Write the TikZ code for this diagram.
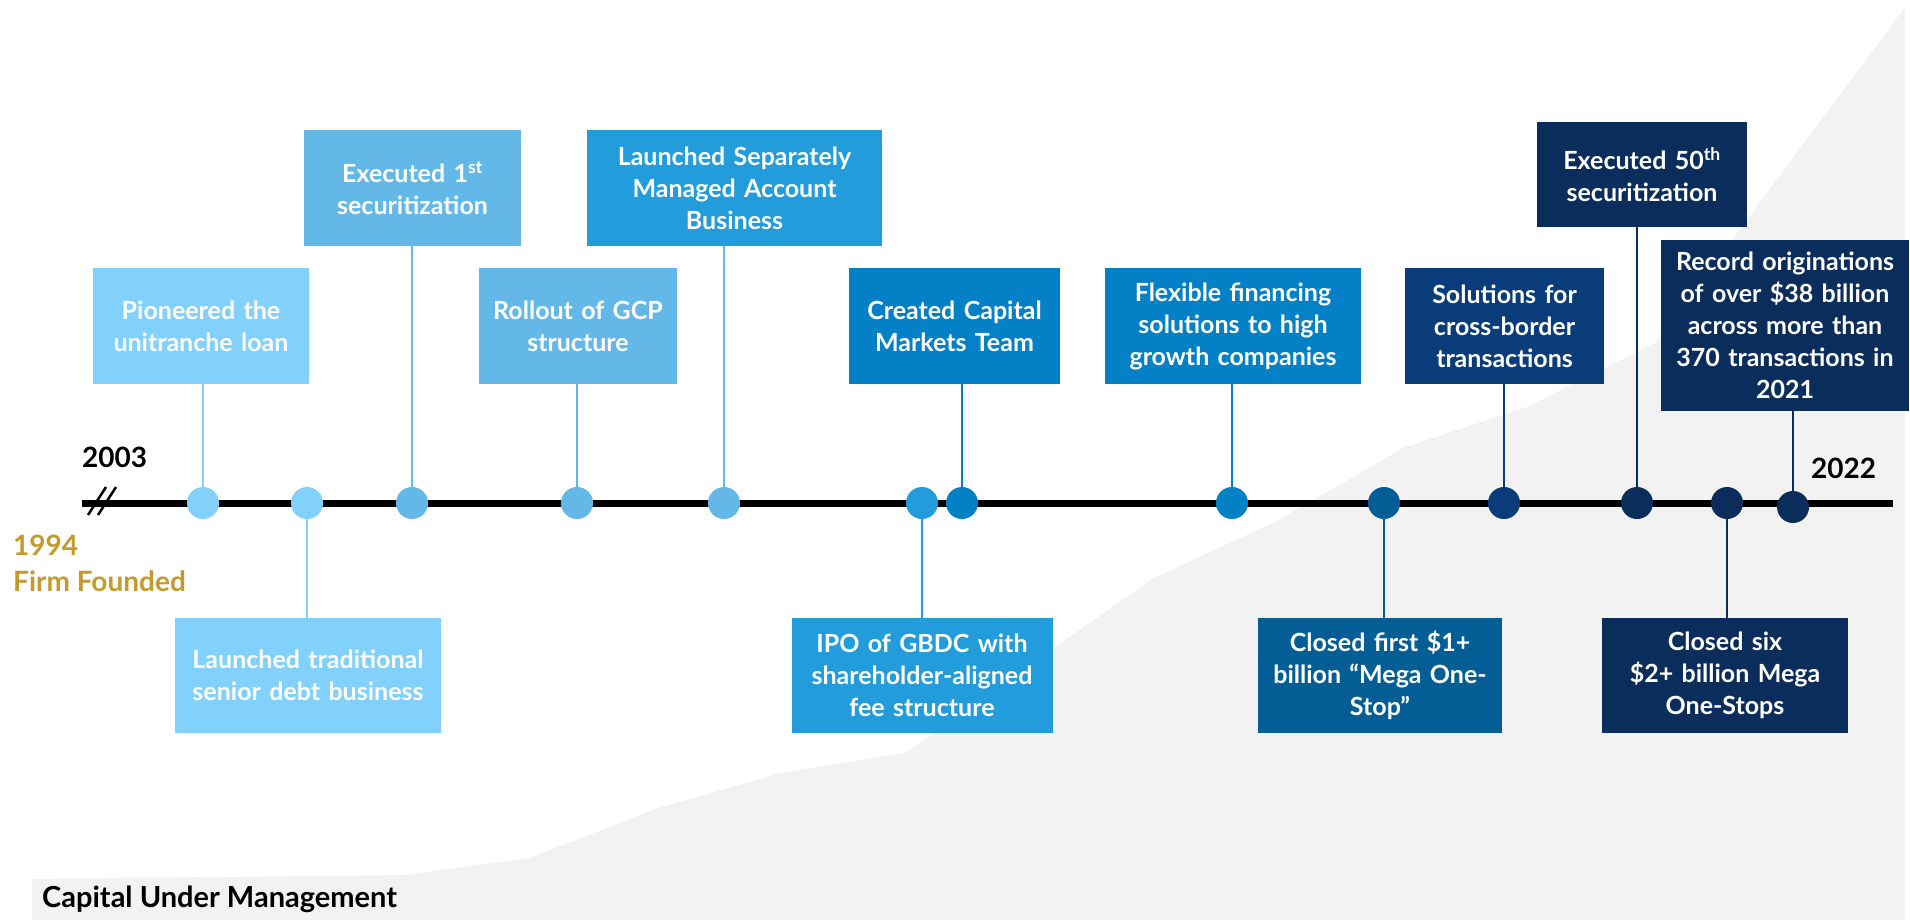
\documentclass[tikz,border=0pt]{standalone}
\usepackage{fontspec}
\setmainfont{Lato}
\usepackage{tikz}
\usetikzlibrary{positioning}

\definecolor{blueA}{HTML}{82D1FC}
\definecolor{blueB}{HTML}{63B8E7}
\definecolor{blueC}{HTML}{229CDB}
\definecolor{blueD}{HTML}{0380C6}
\definecolor{blueE}{HTML}{045E96}
\definecolor{blueF}{HTML}{0B3C7A}
\definecolor{blueG}{HTML}{0B2D5C}
\definecolor{gold}{HTML}{C39A2E}
\definecolor{cumgray}{HTML}{F2F2F2}

\begin{document}
\begin{tikzpicture}[x=1pt,y=-1pt]
\tikzstyle{event} = [rectangle, inner sep=0pt, align=center, text=white, minimum height=116pt, font=\fontsize{25}{32}\selectfont\bfseries]
\tikzstyle{dot} = [circle, inner sep=0pt, minimum size=32pt]
\tikzstyle{stem} = [line width=2pt]
\tikzstyle{axis} = [line width=7pt]
\tikzstyle{year} = [inner sep=0pt, font=\fontsize{28}{36}\selectfont\bfseries]

\useasboundingbox (0,0) rectangle (1910,920);

% capital under management, in the back
\fill [cumgray] (32,920) -- (32,879) -- (404,875) -- (530,858) -- (655,809) -- (781,773) -- (905,753) -- (1152,579) -- (1277,521) -- (1403,448) -- (1527,407) -- (1655,343) -- (1735,236) -- (1905,7) -- (1905,920) -- cycle;

\coordinate (start) at (82,503);
\coordinate (end) at (1893,503);
\draw [axis] (start) -- (end);
\draw [line width=2.5pt] (88,515) -- (106,487);
\draw [line width=2.5pt] (98,515) -- (116,487);

\node (y2003) [year, anchor=base west] at (82,467) {2003};
\node (y2022) [year, anchor=base west] at (1811,478) {2022};
\node (found) [year, text=gold, anchor=north west, align=left] at (13,535) {1994\\Firm Founded};
\node (cum) [inner sep=0pt, anchor=base west, font=\fontsize{29}{32}\selectfont\bfseries] at (42,907) {Capital Under Management};

% dots on the line
\node (d1) [dot, fill=blueA] at (203,503) {};
\node (d2) [dot, fill=blueA] at (307,503) {};
\node (d3) [dot, fill=blueB] at (412,503) {};
\node (d4) [dot, fill=blueB] at (577,503) {};
\node (d5) [dot, fill=blueB] at (724,503) {};
\node (d6) [dot, fill=blueC] at (922,503) {};
\node (d7) [dot, fill=blueD] at (962,503) {};
\node (d8) [dot, fill=blueD] at (1232,503) {};
\node (d9) [dot, fill=blueE] at (1384,503) {};
\node (d10) [dot, fill=blueF] at (1504,503) {};
\node (d11) [dot, fill=blueG] at (1637,503) {};
\node (d12) [dot, fill=blueG] at (1727,503) {};
\node (d13) [dot, fill=blueG] at (1793,507) {};

% events above
\node (pion) [event, fill=blueA, text width=216pt] at (201,326) {Pioneered the\\unitranche loan};
\node (sec1) [event, fill=blueB, text width=217pt] at (412.5,188) {Executed 1\textsuperscript{st}\\securitization};
\node (gcp) [event, fill=blueB, text width=198pt] at (578,326) {Rollout of GCP\\structure};
\node (sma) [event, fill=blueC, text width=295pt] at (734.5,188) {Launched Separately\\Managed Account\\Business};
\node (cmt) [event, fill=blueD, text width=211pt] at (954.5,326) {Created Capital\\Markets Team};
\node (flex) [event, fill=blueD, text width=256pt] at (1233,326) {Flexible financing\\solutions to high\\growth companies};
\node (xb) [event, fill=blueF, text width=199pt] at (1504.5,326) {Solutions for\\cross-border\\transactions};
\node (sec50) [event, fill=blueG, text width=210pt, minimum height=105pt] at (1642,174.5) {Executed 50\textsuperscript{th}\\securitization};
\node (rec) [event, fill=blueG, text width=248pt, minimum height=171pt] at (1785,325.5) {Record originations\\of over \$38 billion\\across more than\\370 transactions in\\2021};

% events below
\node (trad) [event, fill=blueA, text width=266pt, minimum height=115pt] at (308,675.5) {Launched traditional\\senior debt business};
\node (ipo) [event, fill=blueC, text width=261pt, minimum height=115pt] at (922,675.5) {IPO of GBDC with\\shareholder-aligned\\fee structure};
\node (mega1) [event, fill=blueE, text width=244pt, minimum height=115pt] at (1380,675.5) {Closed first \$1+\\billion “Mega One-\\Stop”};
\node (mega6) [event, fill=blueG, text width=246pt, minimum height=115pt] at (1725,675.5) {Closed six\\\$2+ billion Mega\\One-Stops};

\draw [stem, blueA] (pion.south -| d1) -- (d1);
\draw [stem, blueA] (d2) -- (trad.north -| d2);
\draw [stem, blueB] (sec1.south -| d3) -- (d3);
\draw [stem, blueB] (gcp.south -| d4) -- (d4);
\draw [stem, blueB] (sma.south -| d5) -- (d5);
\draw [stem, blueC] (d6) -- (ipo.north -| d6);
\draw [stem, blueD] (cmt.south -| d7) -- (d7);
\draw [stem, blueD] (flex.south -| d8) -- (d8);
\draw [stem, blueE] (d9) -- (mega1.north -| d9);
\draw [stem, blueF] (xb.south -| d10) -- (d10);
\draw [stem, blueG] (sec50.south -| d11) -- (d11);
\draw [stem, blueG] (d12) -- (mega6.north -| d12);
\draw [stem, blueG] (rec.south -| d13) -- (d13);

\end{tikzpicture}
\end{document}
